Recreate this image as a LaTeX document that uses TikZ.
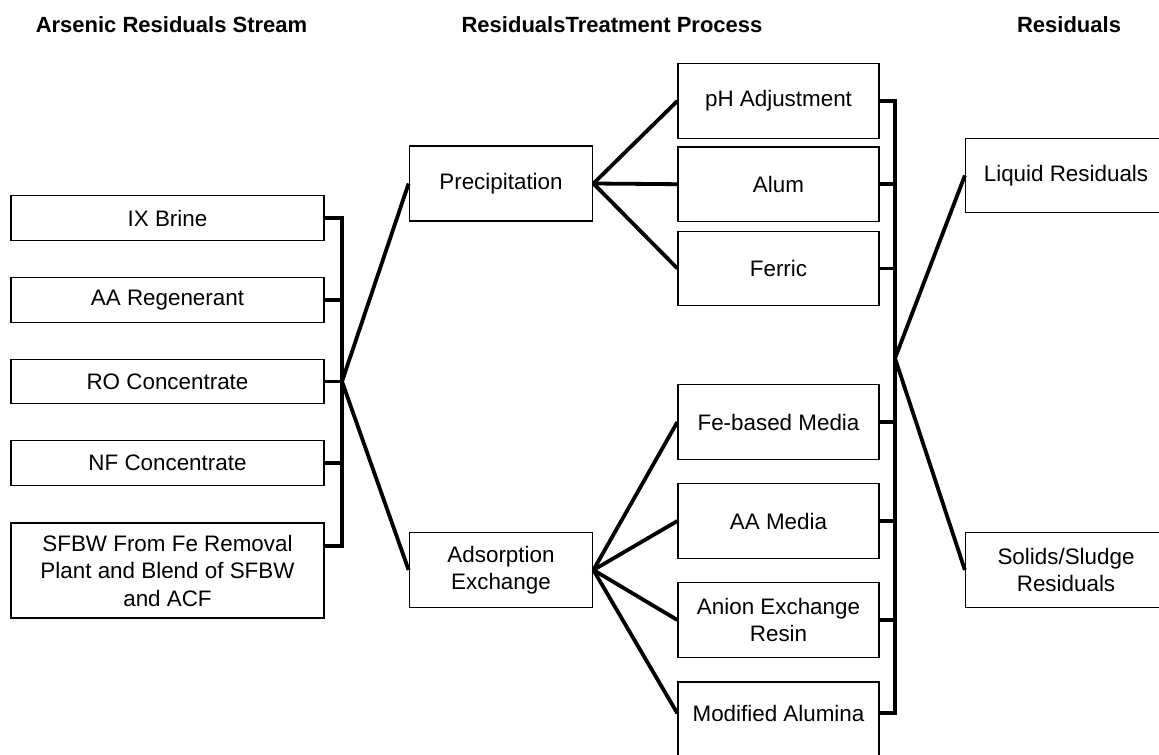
\documentclass[tikz,border=0pt]{standalone}
\usepackage{fontspec}
\setmainfont{Liberation Sans}
\usetikzlibrary{calc}
\begin{document}
\begin{tikzpicture}[x=0.5pt, y=-0.5pt,
        box/.style={draw, line width=0.65pt, align=center, inner sep=0pt, font=\fontsize{11.2}{13.75}\selectfont},
        stream/.style={box, minimum width=156.5pt, minimum height=22.2pt},
        proc/.style={box, minimum width=91.75pt, minimum height=37.4pt},
        sub/.style={box, minimum width=100.5pt, minimum height=37.2pt},
        head/.style={anchor=base, font=\bfseries\fontsize{11}{13}\selectfont},
        link/.style={line width=1.9pt}]
	    \useasboundingbox (0,0) rectangle (1159,754);
	    % column headings
	    \node[head] (h1) at (171.5, 32.5) {Arsenic Residuals Stream};
	    \node[head] (h2) at (612, 32.5)   {ResidualsTreatment Process};
	    \node[head] (h3) at (1069, 32.5)  {Residuals};
	    % residual streams
	    \node[stream] (ix)   at (167.5, 218)   {IX Brine};
	    \node[stream] (aa)   at (167.5, 300)   {AA Regenerant};
	    \node[stream] (ro)   at (167.5, 381.5) {RO Concentrate};
	    \node[stream] (nf)   at (167.5, 463)   {NF Concentrate};
	    \node[stream, minimum height=47.5pt] (sfbw) at (167.5, 570.5) {SFBW From Fe Removal\\Plant and Blend of SFBW\\and ACF};
	    % treatment processes
	    \node[proc] (precip) at (501, 183.5) {Precipitation};
	    \node[proc] (adsorp) at (501, 570)   {Adsorption\\Exchange};
	    \node[sub] (ph)      at (778.5, 101)   {pH Adjustment};
	    \node[sub] (alum)    at (778.5, 184.2) {Alum};
	    \node[sub] (ferric)  at (778.5, 268.4) {Ferric};
	    \node[sub] (febased) at (778.5, 422)   {Fe-based Media};
	    \node[sub] (aamedia) at (778.5, 521)   {AA Media};
	    \node[sub] (anion)   at (778.5, 620)   {Anion Exchange\\Resin};
	    \node[sub, minimum height=49.6pt] (modal) at (778.5, 731.6) {Modified Alumina\\ \strut};
	    % residuals
	    \node[sub] (liquid) at (1066, 175.5) {Liquid Residuals};
	    \node[sub] (solids) at (1066, 570)   {Solids/Sludge\\Residuals};
	    % junction points
	    \coordinate (lb) at (342, 381.5);
	    \coordinate (rb) at (895, 358.3);
	    \coordinate (sfbwout) at ($(sfbw.north east)+(0,24)$);
	    \coordinate (modout) at ($(modal.north east)+(0,32)$);
	    % left bracket
	    \draw[link] (ix.east) -| (lb);
	    \draw[link] (aa.east) -| (lb);
	    \draw[link] (ro.east) -- (lb);
	    \draw[link] (nf.east) -| (lb);
	    \draw[link] (sfbwout) -| (lb);
	    \draw[link] (precip.west) -- (lb) -- (adsorp.west);
	    % process branches
	    \draw[link] (precip.east) -- (ph.west);
	    \draw[link] (precip.east) -- (alum.west);
	    \draw[link] (precip.east) -- (ferric.west);
	    \draw[link] (adsorp.east) -- (febased.west);
	    \draw[link] (adsorp.east) -- (aamedia.west);
	    \draw[link] (adsorp.east) -- (anion.west);
	    \draw[link] (adsorp.east) -- (modout -| modal.west);
	    % right bracket
	    \draw[link] (ph.east) -| (rb);
	    \draw[link] (alum.east) -| (rb);
	    \draw[link] (ferric.east) -| (rb);
	    \draw[link] (febased.east) -| (rb);
	    \draw[link] (aamedia.east) -| (rb);
	    \draw[link] (anion.east) -| (rb);
	    \draw[link] (modout) -| (rb);
	    \draw[link] (liquid.west) -- (rb) -- (solids.west);
	\end{tikzpicture}
\end{document}
